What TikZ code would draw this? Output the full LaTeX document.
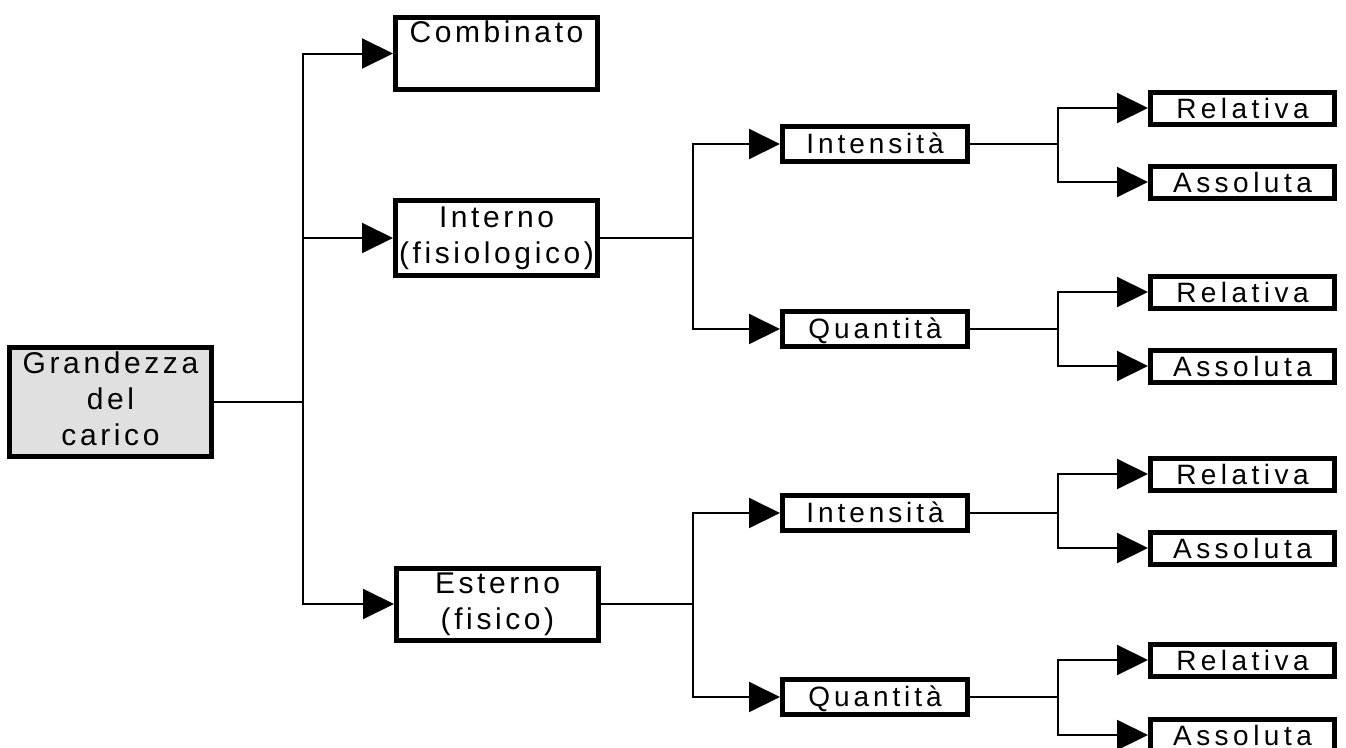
\documentclass[tikz,border=0pt]{standalone}
\usepackage{fontspec}
\setmainfont{Liberation Sans}
\usetikzlibrary{arrows.meta}
\definecolor{rootfill}{RGB}{224,224,224}
\begin{document}
\begin{tikzpicture}[x=1pt,y=-1pt,
  box/.style={draw, line width=5pt, inner sep=0pt, align=center,
    font=\fontsize{30}{36}\selectfont\addfontfeature{LetterSpace=12}},
  bigbox/.style={box, minimum width=202pt},
  midbox/.style={box, minimum width=185pt, minimum height=35pt,
    text height=20pt, text depth=2pt,
    font=\fontsize{28}{32}\selectfont\addfontfeature{LetterSpace=14}},
  leafbox/.style={box, minimum width=184pt, minimum height=32pt,
    text height=20pt, text depth=0pt,
    font=\fontsize{28}{32}\selectfont\addfontfeature{LetterSpace=16}},
  link/.style={line width=2pt},
  arr/.style={link, -{Triangle[length=31pt,width=30pt]}}
]
\useasboundingbox (0,0) rectangle (1346,747);

% trunk columns of the tree
\coordinate (tA) at (303,0);
\coordinate (tB) at (693,0);
\coordinate (tC) at (1058,0);

% root
\node[box, fill=rootfill, minimum width=202pt, minimum height=109pt]
  (root) at (110.5,402) {\strut Grandezza\\\strut del\\\strut carico};

% first level
\node[bigbox, minimum height=68pt] (comb) at (496.5,53.5) {\strut Combinato\\\strut};
\node[bigbox, minimum height=75pt] (intern) at (496.5,238) {\strut Interno\\\strut (fisiologico)};
\node[bigbox, minimum height=70pt] (estern) at (497.5,604) {\strut Esterno\\\strut (fisico)};

% second level
\node[midbox] (i1) at (875,144) {Intensità};
\node[midbox] (q1) at (875,329) {Quantità};
\node[midbox] (i2) at (875,513) {Intensità};
\node[midbox] (q2) at (875,697) {Quantità};

% leaves
\node[leafbox] (i1r) at (1242.5,108) {Relativa};
\node[leafbox] (i1a) at (1242.5,182) {Assoluta};
\node[leafbox] (q1r) at (1242.5,292) {Relativa};
\node[leafbox] (q1a) at (1242.5,366) {Assoluta};
\node[leafbox] (i2r) at (1242.5,474) {Relativa};
\node[leafbox] (i2a) at (1242.5,548) {Assoluta};
\node[leafbox] (q2r) at (1242.5,660) {Relativa};
\node[leafbox] (q2a) at (1242.5,735) {Assoluta};

% connectors
\draw[link] (root.east) -- (root.east -| tA);
\foreach \n in {comb,intern,estern}
  \draw[arr] (root.east -| tA) |- (\n.west);

\draw[link] (intern.east) -- (intern.east -| tB);
\foreach \n in {i1,q1}
  \draw[arr] (intern.east -| tB) |- (\n.west);
\draw[link] (estern.east) -- (estern.east -| tB);
\foreach \n in {i2,q2}
  \draw[arr] (estern.east -| tB) |- (\n.west);

\foreach \p in {i1,q1,i2,q2} {
  \draw[link] (\p.east) -- (\p.east -| tC);
  \draw[arr] (\p.east -| tC) |- (\p r.west);
  \draw[arr] (\p.east -| tC) |- (\p a.west);
}
\end{tikzpicture}
\end{document}
